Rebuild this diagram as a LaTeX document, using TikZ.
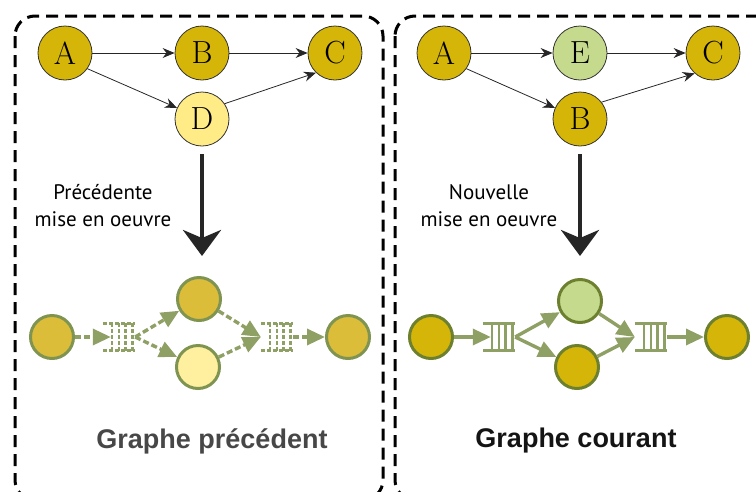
\documentclass[tikz,border=0pt]{standalone}
\usepackage{fontspec}
\newfontfamily\notefont{PT Sans}
\newfontfamily\titlefont{Liberation Sans}
\usepackage{xcolor}
\usepackage{tikz}
\usetikzlibrary{arrows.meta,calc}

\definecolor{gold}{RGB}{213,182,8}
\definecolor{paleyellow}{RGB}{255,236,135}
\definecolor{palegreen}{RGB}{197,218,140}
\definecolor{oldgold}{RGB}{219,189,58}
\definecolor{oldpale}{RGB}{255,240,160}
\definecolor{olive}{RGB}{108,128,48}
\definecolor{oldolive}{RGB}{128,148,82}
\definecolor{sage}{RGB}{143,160,100}

\begin{document}
\begin{tikzpicture}[x=1pt,y=-1pt,
  vertex/.style={circle,draw=black!80,line width=0.8pt,minimum size=54pt,inner sep=0pt,font=\fontsize{32}{34}\selectfont},
  edge/.style={-{Stealth[length=12pt,width=10pt]},line width=0.8pt,black!85},
  frame/.style={line width=3pt,dash pattern=on 12pt off 7pt,rounded corners=20pt},
  bigarrow/.style={-{Stealth[length=26pt,width=38pt,inset=8pt]},line width=4pt,black!85},
  task/.style={circle,line width=3pt,minimum size=43pt,inner sep=0pt},
  queue/.style={rectangle,minimum width=32pt,minimum height=27pt,inner sep=0pt},
  flow/.style={-{Triangle[length=18pt,width=16pt]},line width=3.4pt,sage},
  oldflow/.style={flow,dash pattern=on 6pt off 3pt},
  bar/.style={line width=2.6pt,sage},
  oldbar/.style={bar,dash pattern=on 4pt off 2pt},
  note/.style={font=\notefont\fontsize{21}{27}\selectfont,align=center},
  title/.style={font=\titlefont\bfseries\fontsize{27}{30}\selectfont}]
  \useasboundingbox (0,0) rectangle (756,491);
  \clip (0,0) rectangle (756,491);

  \draw[frame] (15,16) rectangle (383,500);
  \draw[frame] (395,16) rectangle (790,500);

  \node[vertex,fill=gold] (A1) at (65,53) {A};
  \node[vertex,fill=gold] (B1) at (202,53) {B};
  \node[vertex,fill=gold] (C1) at (335,53) {C};
  \node[vertex,fill=paleyellow] (D1) at (202,119) {D};
  \draw[edge] (A1) -- (B1);
  \draw[edge] (B1) -- (C1);
  \draw[edge] (A1.-35) -- (D1.156);
  \draw[edge] (D1.34) -- (C1.226);

  \node[vertex,fill=gold] (A2) at (444,53) {A};
  \node[vertex,fill=palegreen] (E2) at (580,53) {E};
  \node[vertex,fill=gold] (C2) at (713,53) {C};
  \node[vertex,fill=gold] (B2) at (580,119) {B};
  \draw[edge] (A2) -- (E2);
  \draw[edge] (E2) -- (C2);
  \draw[edge] (A2.-35) -- (B2.156);
  \draw[edge] (B2.38) -- (C2.228);

  \coordinate (tip1) at (202,256);
  \coordinate (tip2) at (580,256);
  \draw[bigarrow,shorten <=8pt] (D1) -- (tip1);
  \draw[bigarrow,shorten <=8pt] (B2) -- (tip2);
  \node[note] (note1) at (103,206) {Précédente\\mise en oeuvre};
  \node[note] (note2) at (489,206) {Nouvelle\\mise en oeuvre};

  \node[task,draw=oldolive,fill=oldgold] (s1) at (52,337) {};
  \node[task,draw=oldolive,fill=oldgold] (u1) at (199,299) {};
  \node[task,draw=oldolive,fill=oldpale] (l1) at (198,367) {};
  \node[task,draw=oldolive,fill=oldgold] (t1) at (348,337) {};
  \node[queue] (q1) at (119,337) {};
  \node[queue] (q2) at (277,337) {};

  \node[task,draw=olive,fill=gold] (s2) at (431,337) {};
  \node[task,draw=olive,fill=palegreen] (u2) at (580,301) {};
  \node[task,draw=olive,fill=gold] (l2) at (577,367) {};
  \node[task,draw=olive,fill=gold] (t2) at (727,337) {};
  \node[queue] (q3) at (499,337) {};
  \node[queue] (q4) at (651,337) {};

  \foreach \q/\s in {q1/oldbar,q2/oldbar,q3/bar,q4/bar} {
    \draw[\s] (\q.north west) -- (\q.north east) (\q.south west) -- (\q.south east);
    \foreach \f in {0.28,0.5,0.7,0.92}
      \draw[\s] ($(\q.north west)!\f!(\q.north east)$) -- ($(\q.south west)!\f!(\q.south east)$);
  }

  \draw[oldflow,shorten >=-8pt] (s1) -- (q1.west);
  \draw[oldflow] (q1.east) -- (u1);
  \draw[oldflow] (q1.east) -- (l1);
  \draw[oldflow] (u1) -- (q2.west);
  \draw[oldflow] (l1) -- (q2.west);
  \draw[oldflow] (q2.east) -- (t1);

  \draw[flow,shorten >=-8pt] (s2) -- (q3.west);
  \draw[flow] (q3.east) -- (u2);
  \draw[flow] (q3.east) -- (l2);
  \draw[flow] (u2) -- (q4.west);
  \draw[flow] (l2) -- (q4.west);
  \draw[flow] (q4.east) -- (t2);

  \node[title,text=black!72] (name1) at (212,441) {Graphe précédent};
  \node[title,text=black!92] (name2) at (576,441) {Graphe courant};
\end{tikzpicture}
\end{document}
